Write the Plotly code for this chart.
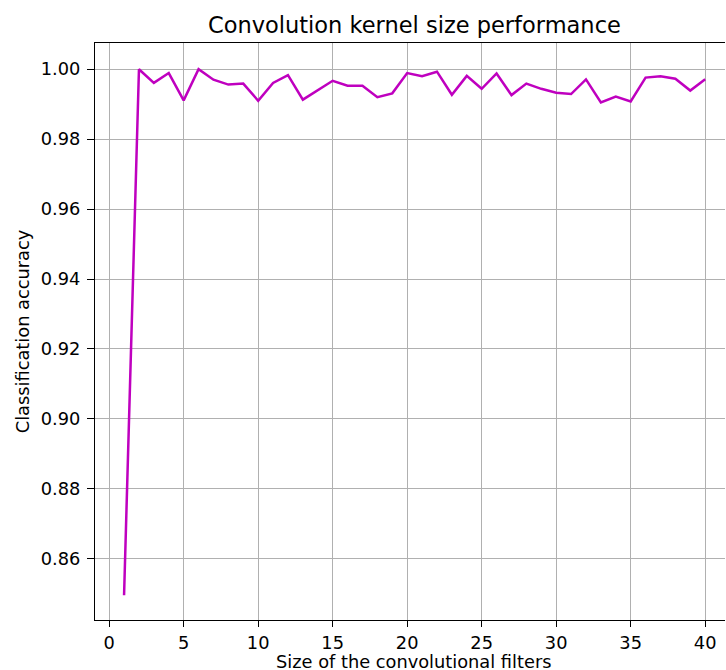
import plotly.graph_objects as go

kernel_sizes = list(range(1, 41))
accuracy = [0.8496, 1.0000, 0.9961, 0.9989, 0.9911, 1.0000, 0.9970, 0.9956, 0.9959, 0.9910,
            0.9961, 0.9983, 0.9913, 0.9940, 0.9967, 0.9953, 0.9953, 0.9920, 0.9931, 0.9989,
            0.9980, 0.9993, 0.9927, 0.9981, 0.9944, 0.9988, 0.9926, 0.9959, 0.9944, 0.9933,
            0.9929, 0.9971, 0.9905, 0.9922, 0.9908, 0.9976, 0.9980, 0.9973, 0.9939, 0.9971]
x_ticks = [0, 5, 10, 15, 20, 25, 30, 35, 40]
y_ticks = [0.86, 0.88, 0.90, 0.92, 0.94, 0.96, 0.98, 1.00]

FONT = "DejaVu Sans"
FS = 17.8

fig = go.Figure()
fig.add_trace(go.Scatter(x=kernel_sizes, y=accuracy, mode="lines",
                         line=dict(color="#bf00bf", width=2.5), showlegend=False))

fig.update_layout(
    width=726, height=670,
    margin=dict(l=95, r=1, t=43, b=50),
    paper_bgcolor="white", plot_bgcolor="white",
    font=dict(family=FONT, size=FS, color="black"),
    title=dict(text="Convolution kernel size performance", x=0.507, xanchor="center",
               y=0.962, yanchor="middle", xref="paper",
               font=dict(family=FONT, size=22.5, color="black")),
    xaxis=dict(range=[-0.95, 41.33], tickvals=x_ticks, ticktext=[str(v) for v in x_ticks],
               showgrid=True, gridcolor="#b0b0b0", gridwidth=1.2,
               showline=True, linecolor="black", linewidth=1.2, mirror=True,
               ticks="outside", ticklen=6, tickcolor="black", tickwidth=1.2,
               ticklabelstandoff=1, automargin=False,
               zeroline=False, tickfont=dict(size=FS)),
    yaxis=dict(range=[0.8425, 1.0075], tickvals=y_ticks, ticktext=[f"{v:.2f}" for v in y_ticks],
               showgrid=True, gridcolor="#b0b0b0", gridwidth=1.2,
               showline=True, linecolor="black", linewidth=1.2, mirror=False,
               ticks="outside", ticklen=7, tickcolor="black", tickwidth=1.2,
               ticklabelstandoff=3, automargin=False,
               zeroline=False, tickfont=dict(size=FS),
               title=dict(text="Classification accuracy", standoff=6,
                          font=dict(family=FONT, size=FS))),
    annotations=[dict(text="Size of the convolutional filters", xref="paper", yref="paper",
                      x=0.507, y=0, xanchor="center", yanchor="top", yshift=-29.5,
                      borderpad=0, showarrow=False,
                      font=dict(family=FONT, size=FS, color="black"))],
)

fig.write_html("out.html")
